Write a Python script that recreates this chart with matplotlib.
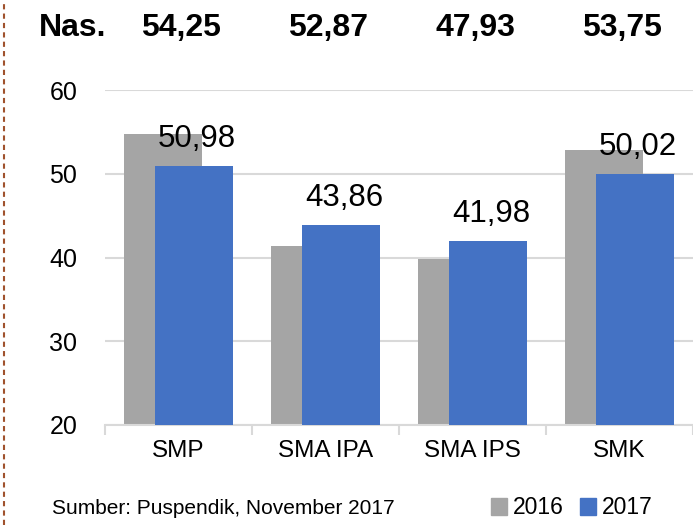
import numpy as np
import matplotlib.pyplot as plt
import matplotlib.transforms as mtransforms
from matplotlib.lines import Line2D
from matplotlib.patches import Patch

plt.rcParams['font.family'] = ['Liberation Sans', 'DejaVu Sans']

categories = ['SMP', 'SMA IPA', 'SMA IPS', 'SMK']
nilai_2016 = [54.75, 41.4, 39.85, 52.8]
nilai_2017 = [50.98, 43.86, 41.98, 50.02]
label_2017 = ['50,98', '43,86', '41,98', '50,02']
nasional = ['54,25', '52,87', '47,93', '53,75']
y_ticks = [20, 30, 40, 50, 60]

grey = '#A5A5A5'
blue = '#4472C4'
grid_c = '#D9D9D9'

fig = plt.figure(figsize=(6.93, 5.25), dpi=100)
ax = fig.add_axes([105 / 693, 1 - 425 / 525, 1 - 105 / 693, (425 - 90) / 525])

x = np.arange(len(categories))
w = 0.53
ax.bar(x - 0.105, nilai_2016, w, bottom=0, color=grey, zorder=2)
ax.bar(x + 0.105, nilai_2017, w, bottom=0, color=blue, zorder=3)

ax.set_ylim(20, 60)
ax.set_xlim(-0.5, 3.42)
ax.set_yticks(y_ticks)
ax.set_yticklabels([str(t) for t in y_ticks], fontsize=18)
ax.tick_params(axis='y', length=0, pad=20)
ax.yaxis.grid(True, color=grid_c, linewidth=1.5, zorder=0)
ax.set_axisbelow(True)

ax.set_xticks(x)
ax.set_xticklabels(categories, fontsize=17.5)
ax.tick_params(axis='x', length=0, pad=11)
ax.set_xticks(np.arange(-0.5, 4, 1), minor=True)
ax.tick_params(axis='x', which='minor', length=7, width=1.5, color=grid_c)

for s in ['top', 'right', 'left']:
    ax.spines[s].set_visible(False)
ax.spines['bottom'].set_color(grid_c)
ax.spines['bottom'].set_linewidth(1.5)

# angka 2017 di atas batang biru
for xi, v, lab in zip(x, nilai_2017, label_2017):
    ax.annotate(lab, (xi + 0.125, v), xytext=(0, 13.5), textcoords='offset points',
                ha='center', va='baseline', fontsize=22.5, color='black', zorder=4)

# baris nilai nasional
yt = 1 - 28 / 525
trans = mtransforms.blended_transform_factory(ax.transData, fig.transFigure)
fig.text(73 / 693, yt, 'Nas.', ha='center', va='center', fontsize=23, fontweight='bold')
for xi, lab in zip(x, nasional):
    ax.text(xi + 0.02, yt, lab, transform=trans, ha='center', va='center',
            fontsize=23, fontweight='bold')

fig.text(52 / 693, 1 - 508 / 525, 'Sumber: Puspendik, November 2017', ha='left', va='center',
         fontsize=15)

handles = [Patch(color=grey, label='2016'), Patch(color=blue, label='2017')]
fig.legend(handles=handles, loc='center', bbox_to_anchor=(572 / 693, 1 - 508 / 525), ncol=2,
           frameon=False, fontsize=16.5, handlelength=0.7, handleheight=0.7, handletextpad=0.25,
           columnspacing=0.7)

# garis putus-putus di kiri
fig.add_artist(Line2D([4 / 693, 4 / 693], [0, 1], color='#A0522D', linewidth=1.5,
                      linestyle=(0, (2.5, 2))))

fig.savefig('out.png', dpi=100)
